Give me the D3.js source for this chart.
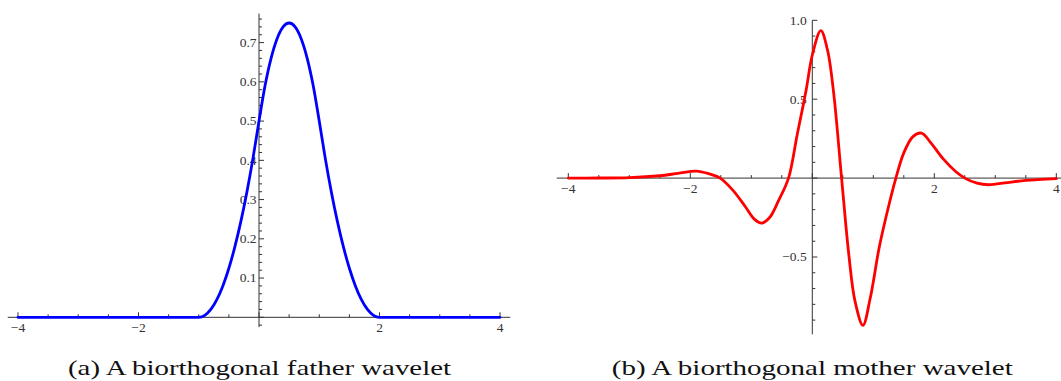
<!DOCTYPE html>
<html>
<head>
<meta charset="utf-8">
<script src="https://cdn.jsdelivr.net/npm/d3@7"></script>
<style>
  html, body { margin: 0; padding: 0; background: #fff; }
  svg { display: block; }
  text { font-family: 'Liberation Serif', 'Times New Roman', 'DejaVu Serif', serif; }
</style>
</head>
<body>
<svg id="chart" width="1061" height="381"></svg>
<script>
// ---- Data ----
const fatherX = [-4, -1, -0.9, -0.8, -0.7, -0.6, -0.5, -0.4, -0.3, -0.2, -0.1, 0,
                 0.1, 0.2, 0.3, 0.4, 0.5, 0.6, 0.7, 0.8, 0.9, 1.0,
                 1.1, 1.2, 1.3, 1.4, 1.5, 1.6, 1.7, 1.8, 1.9, 2.0, 4];
const fatherY = [0, 0, 0.005, 0.02, 0.045, 0.08, 0.125, 0.18, 0.245, 0.32, 0.405, 0.5,
                 0.59, 0.66, 0.71, 0.74, 0.75, 0.74, 0.71, 0.66, 0.59, 0.5,
                 0.405, 0.32, 0.245, 0.18, 0.125, 0.08, 0.045, 0.02, 0.005, 0, 0];

const motherX = [-4, -3.5, -3, -2.5, -2.2, -1.9, -1.7, -1.51, -1.3, -1.1, -0.95, -0.83, -0.7,
                 -0.55, -0.39, -0.25, -0.1, 0, 0.14, 0.25, 0.35, 0.48, 0.6, 0.7, 0.83, 0.95,
                 1.1, 1.25, 1.37, 1.5, 1.65, 1.79, 1.95, 2.15, 2.35, 2.5, 2.7, 2.89, 3.2, 3.5, 4];
const motherY = [0, 0.0005, 0.003, 0.015, 0.03, 0.044, 0.028, 0, -0.078, -0.18, -0.26, -0.285, -0.25,
                 -0.14, 0, 0.27, 0.56, 0.78, 0.934, 0.81, 0.54, 0, -0.49, -0.78, -0.933, -0.76,
                 -0.433, -0.18, 0, 0.16, 0.263, 0.285, 0.22, 0.12, 0.042, 0, -0.032, -0.042, -0.028, -0.015, -0.003];

const xTickLabels = [-4, -2, 2, 4];
const fatherYTickLabels = [0.1, 0.2, 0.3, 0.4, 0.5, 0.6, 0.7];
const motherYTickLabels = [-0.5, 0.5, 1.0];
const captions = ["(a) A biorthogonal father wavelet", "(b) A biorthogonal mother wavelet"];

// ---- Drawing ----
const svg = d3.select("#chart");
const axisColor = "#333";
const fmtMinus = v => (v < 0 ? "\u2212" : "") + Math.abs(v);

function panel(opts) {
  const { x, y, xDom, yDom, xMinor, yMajor, yMinor, yLabels, yFmt, labelGap, color, xs, ys, curve } = opts;
  const g = svg.append("g");

  g.append("line")
    .attr("x1", x(xDom[0])).attr("x2", x(xDom[1]))
    .attr("y1", y(0)).attr("y2", y(0))
    .attr("stroke", axisColor).attr("stroke-width", 1);
  g.append("line")
    .attr("x1", x(0)).attr("x2", x(0))
    .attr("y1", y(yDom[0])).attr("y2", y(yDom[1]))
    .attr("stroke", axisColor).attr("stroke-width", 1);

  const xt = d3.range(-8, 9).map(i => i * xMinor);
  g.selectAll(null).data(xt).join("line")
    .attr("x1", d => x(d)).attr("x2", d => x(d))
    .attr("y1", y(0))
    .attr("y2", d => y(0) - (Math.abs(d % 2) < 1e-9 ? 5 : 3))
    .attr("stroke", axisColor).attr("stroke-width", 1);

  const nMin = Math.ceil(yDom[0] / yMinor - 1e-9), nMax = Math.floor(yDom[1] / yMinor + 1e-9);
  const yt = d3.range(nMin, nMax + 1).map(i => +(i * yMinor).toFixed(4));
  g.selectAll(null).data(yt).join("line")
    .attr("y1", d => y(d)).attr("y2", d => y(d))
    .attr("x1", x(0))
    .attr("x2", d => x(0) + (Math.abs(Math.round(d / yMajor) * yMajor - d) < 1e-6 ? 5 : 3))
    .attr("stroke", axisColor).attr("stroke-width", 1);

  g.selectAll(null).data(xTickLabels).join("text")
    .attr("x", d => x(d)).attr("y", y(0) + 14.6)
    .attr("text-anchor", "middle")
    .attr("font-size", 13.5)
    .attr("fill", "#333")
    .text(fmtMinus);

  g.selectAll(null).data(yLabels).join("text")
    .attr("x", x(0) - labelGap).attr("y", d => y(d) + 4.3)
    .attr("text-anchor", "end")
    .attr("font-size", 13.5)
    .attr("fill", "#333")
    .text(yFmt);

  const pts = xs.map((v, i) => [v, ys[i]]);
  g.append("path")
    .attr("d", d3.line().x(d => x(d[0])).y(d => y(d[1])).curve(curve)(pts))
    .attr("fill", "none").attr("stroke", color).attr("stroke-width", 2.8)
    .attr("stroke-linejoin", "round").attr("stroke-linecap", "round");
}

const xL = d3.scaleLinear().domain([-4, 4]).range([18, 500]);
const yL = d3.scaleLinear().domain([0, 0.7]).range([317.3, 42.6]);
panel({
  x: xL, y: yL, xDom: [-4.17, 4.17], yDom: [-0.025, 0.774],
  xMinor: 0.5, yMajor: 0.1, yMinor: 0.02,
  yLabels: fatherYTickLabels, yFmt: d => d.toFixed(1), labelGap: 2.5,
  color: "#0000ff", xs: fatherX, ys: fatherY, curve: d3.curveMonotoneX
});

const xR = d3.scaleLinear().domain([-4, 4]).range([568.3, 1056.3]);
const yR = d3.scaleLinear().domain([-0.5, 1]).range([257, 20.3]);
panel({
  x: xR, y: yR, xDom: [-4.19, 4.19], yDom: [-0.99, 1.0],
  xMinor: 0.5, yMajor: 0.5, yMinor: 0.1,
  yLabels: motherYTickLabels, yFmt: d => (d < 0 ? "\u2212" : "") + Math.abs(d).toFixed(1), labelGap: 5.6,
  color: "#ff0000", xs: motherX, ys: motherY, curve: d3.curveCatmullRom.alpha(0.5)
});

const capPos = [[259.5, 383], [812.3, 401]];
captions.forEach((c, i) => {
  svg.append("text")
    .attr("x", capPos[i][0]).attr("y", 375)
    .attr("text-anchor", "middle")
    .attr("font-size", 21.5)
    .attr("fill", "#111")
    .attr("textLength", capPos[i][1]).attr("lengthAdjust", "spacingAndGlyphs")
    .text(c);
});
</script>
</body>
</html>
